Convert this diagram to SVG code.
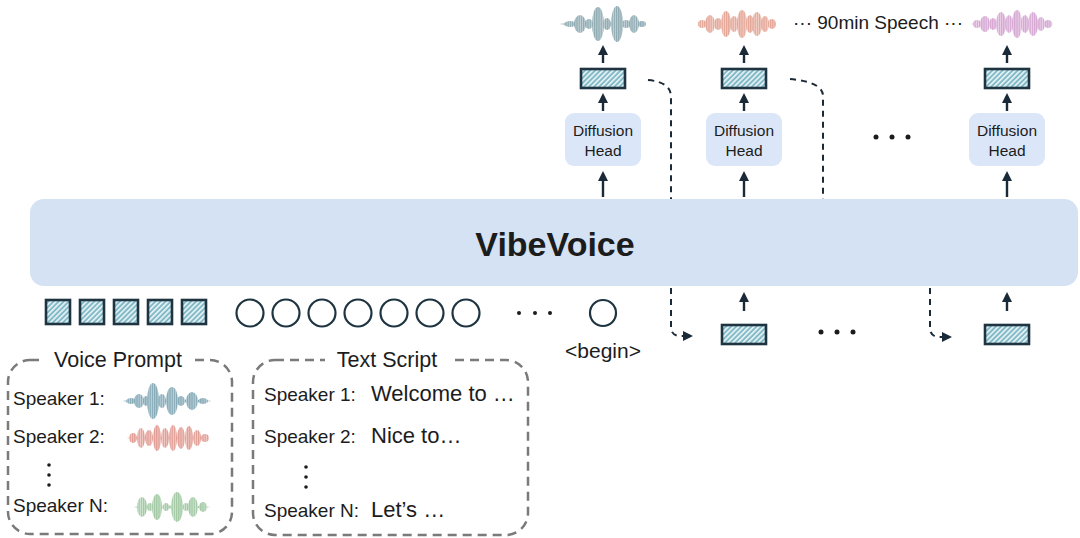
<svg xmlns="http://www.w3.org/2000/svg" width="1080" height="538" viewBox="0 0 1080 538">
<style>
.t{font-family:"Liberation Sans",Arial,Helvetica,sans-serif;fill:#1c1c1c}
.arr{stroke:#1b2a38;stroke-width:2.4;fill:none;marker-end:url(#ah)}
.dash{stroke:#1b2a38;stroke-width:2;fill:none;stroke-dasharray:6 5}
.dbox{fill:none;stroke:#7a7a7a;stroke-width:2.5;stroke-dasharray:9 6}
.tok{fill:url(#hatch);stroke:#1e3541;stroke-width:2.6}
.circ{fill:#fff;stroke:#1e3541;stroke-width:2.2}
.dh{fill:#dbe7f8}
.dot{fill:#1c1c1c}
</style>
<defs>
<marker id="ah" viewBox="0 0 10 10" refX="7" refY="5" markerWidth="10" markerHeight="10" markerUnits="userSpaceOnUse" orient="auto">
<path d="M0,0 L10,5 L0,10 z" fill="#1b2a38"/>
</marker>
<pattern id="hatch" patternUnits="userSpaceOnUse" width="3.6" height="3.6" patternTransform="rotate(45)">
<rect width="3.6" height="3.6" fill="#82b9c7"/><rect width="1.6" height="3.6" fill="#eaf5f7"/>
</pattern>
<pattern id="wb" patternUnits="userSpaceOnUse" width="2.2" height="10"><rect width="2.2" height="10" fill="#c3d3d7"/><rect width="1.2" height="10" fill="#8ea9b1"/></pattern>
<pattern id="wr" patternUnits="userSpaceOnUse" width="2.2" height="10"><rect width="2.2" height="10" fill="#f2d0c8"/><rect width="1.2" height="10" fill="#e3a596"/></pattern>
<pattern id="wp" patternUnits="userSpaceOnUse" width="2.2" height="10"><rect width="2.2" height="10" fill="#ecd2ea"/><rect width="1.2" height="10" fill="#d4a6d1"/></pattern>
<pattern id="wt" patternUnits="userSpaceOnUse" width="2.2" height="10"><rect width="2.2" height="10" fill="#bdd2da"/><rect width="1.2" height="10" fill="#84a8b6"/></pattern>
<pattern id="ws" patternUnits="userSpaceOnUse" width="2.2" height="10"><rect width="2.2" height="10" fill="#f2cbc7"/><rect width="1.2" height="10" fill="#e09c94"/></pattern>
<pattern id="wg" patternUnits="userSpaceOnUse" width="2.2" height="10"><rect width="2.2" height="10" fill="#d0e6d1"/><rect width="1.2" height="10" fill="#a0c7a2"/></pattern>
</defs>
<rect width="1080" height="538" fill="#fff"/>

<g id="vibevoice">
<rect x="30" y="199" width="1048" height="87" rx="14" fill="#d4e2f4"/>
<text class="t" x="555" y="256" font-size="34" font-weight="bold" text-anchor="middle">VibeVoice</text>
</g>

<g id="wave-out-1" fill="url(#wb)">
<ellipse cx="603" cy="24" rx="43" ry="1.5"/>
<ellipse cx="570" cy="24" rx="6" ry="3"/>
<ellipse cx="580" cy="24" rx="6" ry="9"/>
<ellipse cx="589" cy="24" rx="4" ry="5"/>
<ellipse cx="598" cy="24" rx="6" ry="17"/>
<ellipse cx="607" cy="24" rx="4" ry="6"/>
<ellipse cx="617" cy="24" rx="6" ry="18"/>
<ellipse cx="626" cy="24" rx="4" ry="4"/>
<ellipse cx="634" cy="24" rx="5" ry="9"/>
<ellipse cx="642" cy="24" rx="4" ry="3"/>
</g>
<g id="wave-out-2" fill="url(#wr)">
<ellipse cx="737" cy="24" rx="40" ry="1.5"/>
<ellipse cx="702" cy="24" rx="4" ry="4"/>
<ellipse cx="710" cy="24" rx="5" ry="9"/>
<ellipse cx="718" cy="24" rx="4" ry="6"/>
<ellipse cx="726" cy="24" rx="5" ry="13"/>
<ellipse cx="734" cy="24" rx="4" ry="8"/>
<ellipse cx="742" cy="24" rx="5" ry="14"/>
<ellipse cx="750" cy="24" rx="4" ry="9"/>
<ellipse cx="757" cy="24" rx="5" ry="12"/>
<ellipse cx="765" cy="24" rx="4" ry="8"/>
<ellipse cx="772" cy="24" rx="4" ry="5"/>
</g>
<g id="wave-out-3" fill="url(#wp)">
<ellipse cx="1012" cy="24" rx="41" ry="1.5"/>
<ellipse cx="977" cy="24" rx="4" ry="4"/>
<ellipse cx="985" cy="24" rx="5" ry="8"/>
<ellipse cx="993" cy="24" rx="4" ry="6"/>
<ellipse cx="1001" cy="24" rx="5" ry="12"/>
<ellipse cx="1009" cy="24" rx="4" ry="9"/>
<ellipse cx="1017" cy="24" rx="5" ry="14"/>
<ellipse cx="1025" cy="24" rx="4" ry="9"/>
<ellipse cx="1033" cy="24" rx="5" ry="12"/>
<ellipse cx="1041" cy="24" rx="4" ry="7"/>
<ellipse cx="1048" cy="24" rx="4" ry="4"/>
</g>
<g id="speech-label">
<text class="t" x="793" y="29" font-size="19">··· 90min Speech ···</text>
</g>

<g id="head-1">
<rect class="dh" x="565" y="113" width="76" height="53" rx="9"/>
<text class="t" x="603" y="136" font-size="15.5" text-anchor="middle">Diffusion</text>
<text class="t" x="603" y="156" font-size="15.5" text-anchor="middle">Head</text>
</g>
<g id="head-2">
<rect class="dh" x="706" y="113" width="76" height="53" rx="9"/>
<text class="t" x="744" y="136" font-size="15.5" text-anchor="middle">Diffusion</text>
<text class="t" x="744" y="156" font-size="15.5" text-anchor="middle">Head</text>
</g>
<g id="head-3">
<rect class="dh" x="969" y="113" width="76" height="53" rx="9"/>
<text class="t" x="1007" y="136" font-size="15.5" text-anchor="middle">Diffusion</text>
<text class="t" x="1007" y="156" font-size="15.5" text-anchor="middle">Head</text>
</g>
<g id="dots-top">
<circle class="dot" cx="876" cy="137" r="2.5"/><circle class="dot" cx="892" cy="137" r="2.5"/><circle class="dot" cx="908" cy="137" r="2.5"/>
</g>

<g id="latent-out-1"><rect class="tok" x="581" y="69" width="44" height="19"/></g>
<g id="latent-out-2"><rect class="tok" x="722" y="69" width="44" height="19"/></g>
<g id="latent-out-3"><rect class="tok" x="985" y="69" width="44" height="19"/></g>
<g id="latent-in-2"><rect class="tok" x="722" y="325" width="44" height="19"/></g>
<g id="latent-in-3"><rect class="tok" x="985" y="325" width="44" height="19"/></g>
<g id="dots-lower">
<circle class="dot" cx="821" cy="332" r="2.5"/><circle class="dot" cx="837" cy="332" r="2.5"/><circle class="dot" cx="853" cy="332" r="2.5"/>
</g>

<g id="voice-tokens">
<rect class="tok" x="46" y="300" width="24" height="24"/>
<rect class="tok" x="80" y="300" width="24" height="24"/>
<rect class="tok" x="114" y="300" width="24" height="24"/>
<rect class="tok" x="148" y="300" width="24" height="24"/>
<rect class="tok" x="182" y="300" width="24" height="24"/>
</g>
<g id="text-tokens">
<circle class="circ" cx="250" cy="313" r="13.5"/>
<circle class="circ" cx="286" cy="313" r="13.5"/>
<circle class="circ" cx="322" cy="313" r="13.5"/>
<circle class="circ" cx="358" cy="313" r="13.5"/>
<circle class="circ" cx="394" cy="313" r="13.5"/>
<circle class="circ" cx="430" cy="313" r="13.5"/>
<circle class="circ" cx="466" cy="313" r="13.5"/>
<circle class="dot" cx="519" cy="313" r="2"/><circle class="dot" cx="535" cy="313" r="2"/><circle class="dot" cx="550" cy="313" r="2"/>
</g>
<g id="begin-token">
<circle class="circ" cx="603" cy="313" r="13"/>
<text class="t" x="603" y="358" font-size="21" text-anchor="middle">&lt;begin&gt;</text>
</g>

<g id="voice-prompt">
<rect class="dbox" x="8" y="360" width="224" height="174" rx="22"/>
<rect x="42" y="350" width="150" height="20" fill="#fff"/>
<text class="t" x="118" y="367" font-size="21.5" text-anchor="middle">Voice Prompt</text>
<text class="t" x="13" y="405" font-size="19">Speaker 1:</text>
<text class="t" x="13" y="443" font-size="19">Speaker 2:</text>
<circle class="dot" cx="49" cy="465" r="1.8"/><circle class="dot" cx="49" cy="475" r="1.8"/><circle class="dot" cx="49" cy="485" r="1.8"/>
<text class="t" x="13" y="512" font-size="19">Speaker N:</text>
<g fill="url(#wt)">
<ellipse cx="167" cy="401" rx="44" ry="1.5"/>
<ellipse cx="131" cy="401" rx="5" ry="3"/>
<ellipse cx="139" cy="401" rx="5" ry="7"/>
<ellipse cx="146" cy="401" rx="3" ry="5"/>
<ellipse cx="153" cy="401" rx="6" ry="18"/>
<ellipse cx="162" cy="401" rx="4" ry="7"/>
<ellipse cx="172" cy="401" rx="6" ry="14"/>
<ellipse cx="181" cy="401" rx="4" ry="5"/>
<ellipse cx="192" cy="401" rx="6" ry="9"/>
<ellipse cx="203" cy="401" rx="5" ry="3"/>
</g>
<g fill="url(#ws)">
<ellipse cx="168" cy="438" rx="41" ry="1.5"/>
<ellipse cx="133" cy="438" rx="4" ry="5"/>
<ellipse cx="141" cy="438" rx="4" ry="10"/>
<ellipse cx="149" cy="438" rx="4" ry="8"/>
<ellipse cx="157" cy="438" rx="4" ry="13"/>
<ellipse cx="165" cy="438" rx="4" ry="10"/>
<ellipse cx="173" cy="438" rx="4" ry="13"/>
<ellipse cx="181" cy="438" rx="4" ry="11"/>
<ellipse cx="189" cy="438" rx="4" ry="12"/>
<ellipse cx="197" cy="438" rx="4" ry="8"/>
<ellipse cx="205" cy="438" rx="4" ry="4"/>
</g>
<g fill="url(#wg)">
<ellipse cx="172" cy="507" rx="38" ry="1.5"/>
<ellipse cx="142" cy="507" rx="5" ry="10"/>
<ellipse cx="150" cy="507" rx="3" ry="4"/>
<ellipse cx="157" cy="507" rx="5" ry="13"/>
<ellipse cx="166" cy="507" rx="3" ry="4"/>
<ellipse cx="177" cy="507" rx="6" ry="15"/>
<ellipse cx="186" cy="507" rx="3" ry="4"/>
<ellipse cx="193" cy="507" rx="5" ry="10"/>
<ellipse cx="203" cy="507" rx="4" ry="5"/>
</g>
</g>

<g id="text-script">
<rect class="dbox" x="253" y="360" width="275" height="175" rx="22"/>
<rect x="325" y="350" width="124" height="20" fill="#fff"/>
<text class="t" x="387" y="367" font-size="21.5" text-anchor="middle">Text Script</text>
<text class="t" x="264" y="401" font-size="19">Speaker 1:</text>
<text class="t" x="371" y="401" font-size="22">Welcome to …</text>
<text class="t" x="264" y="443" font-size="19">Speaker 2:</text>
<text class="t" x="371" y="443" font-size="22">Nice to…</text>
<circle class="dot" cx="306" cy="467" r="1.8"/><circle class="dot" cx="306" cy="477" r="1.8"/><circle class="dot" cx="306" cy="487" r="1.8"/>
<text class="t" x="264" y="517" font-size="19">Speaker N:</text>
<text class="t" x="371" y="517" font-size="22">Let’s …</text>
</g>

<g id="connectors">
<line class="arr" x1="603" y1="63" x2="603" y2="48"/>
<line class="arr" x1="603" y1="111" x2="603" y2="96"/>
<line class="arr" x1="603" y1="197" x2="603" y2="174"/>
<line class="arr" x1="744" y1="63" x2="744" y2="48"/>
<line class="arr" x1="744" y1="111" x2="744" y2="96"/>
<line class="arr" x1="744" y1="197" x2="744" y2="174"/>
<line class="arr" x1="1007" y1="63" x2="1007" y2="48"/>
<line class="arr" x1="1007" y1="111" x2="1007" y2="96"/>
<line class="arr" x1="1007" y1="197" x2="1007" y2="174"/>
<line class="arr" x1="744" y1="311" x2="744" y2="295"/>
<line class="arr" x1="1007" y1="311" x2="1007" y2="295"/>
<path class="dash" d="M648,80 Q671,82 671,97 V199"/>
<path class="dash" d="M790,79 Q823,82 823,96 V199"/>
<path class="dash" d="M671,288 V327 Q671,336 681,336 H683"/>
<line class="arr" x1="683" y1="336" x2="690" y2="336"/>
<path class="dash" d="M930,288 V328 Q930,337 940,337 H942"/>
<line class="arr" x1="942" y1="337" x2="949" y2="337"/>
</g>
</svg>
